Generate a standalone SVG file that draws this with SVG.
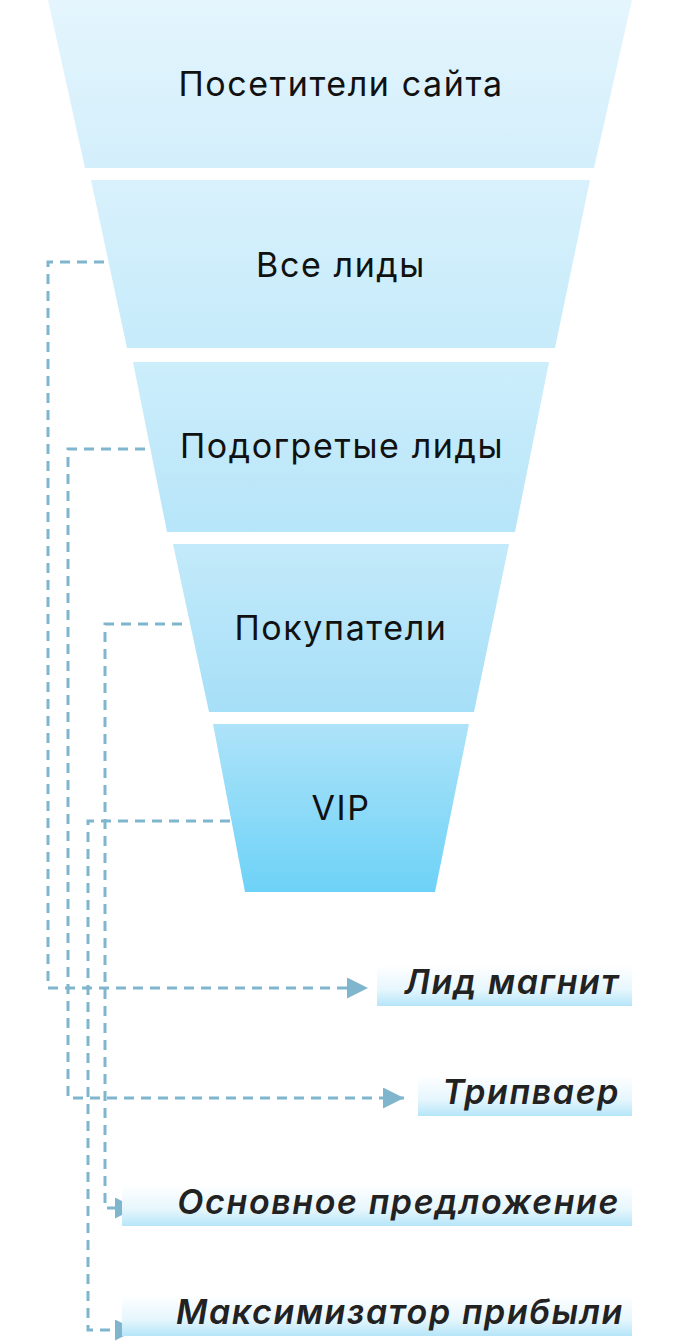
<svg xmlns="http://www.w3.org/2000/svg" width="680" height="1344" viewBox="0 0 680 1344">
<style>
.t{font-family:Inter,"Noto Sans",sans-serif;font-size:34px;letter-spacing:1.6px;fill:#111;text-anchor:middle}
.l{font-family:Inter,"Noto Sans",sans-serif;font-size:34px;letter-spacing:1.6px;font-weight:600;font-style:italic;fill:#222;text-anchor:end}
.c{fill:none;stroke:#7fb6cd;stroke-width:3;stroke-dasharray:10 7}
</style>
<defs>
<linearGradient id="g1" x1="0" y1="0" x2="0" y2="1"><stop offset="0" stop-color="#e4f5fd"/><stop offset="1" stop-color="#d3effb"/></linearGradient>
<linearGradient id="g2" x1="0" y1="0" x2="0" y2="1"><stop offset="0" stop-color="#d8f1fc"/><stop offset="1" stop-color="#c6ebfa"/></linearGradient>
<linearGradient id="g3" x1="0" y1="0" x2="0" y2="1"><stop offset="0" stop-color="#cdeefb"/><stop offset="1" stop-color="#b7e5f9"/></linearGradient>
<linearGradient id="g4" x1="0" y1="0" x2="0" y2="1"><stop offset="0" stop-color="#c3eafa"/><stop offset="1" stop-color="#a6dff8"/></linearGradient>
<linearGradient id="g5" x1="0" y1="0" x2="0" y2="1"><stop offset="0" stop-color="#aee3f9"/><stop offset="1" stop-color="#6dd2f7"/></linearGradient>
<linearGradient id="lg" x1="0" y1="0" x2="0" y2="1"><stop offset="0" stop-color="#ffffff"/><stop offset="0.6" stop-color="#e6f6fd"/><stop offset="1" stop-color="#b5e5f8"/></linearGradient>
<marker id="a" viewBox="0 0 10 10" refX="10" refY="5" markerWidth="7" markerHeight="7" markerUnits="strokeWidth" orient="auto"><path d="M0,0L10,5L0,10z" fill="#7fb6cd"/></marker>
</defs>
<g id="s1"><polygon points="48,0 632,0 594,168 85,168" fill="url(#g1)"/><text class="t" x="341" y="96">Посетители сайта</text></g>
<g id="s2"><polygon points="91,180 590,180 555,348 127,348" fill="url(#g2)"/><text class="t" x="341" y="277">Все лиды</text></g>
<g id="s3"><polygon points="133,362 549,362 515,532 167,532" fill="url(#g3)"/><text class="t" x="342" y="458">Подогретые лиды</text></g>
<g id="s4"><polygon points="173,544 509,544 474,712 209,712" fill="url(#g4)"/><text class="t" x="341" y="640">Покупатели</text></g>
<g id="s5"><polygon points="213,724 469,724 435,892 245,892" fill="url(#g5)"/><text class="t" x="341" y="820">VIP</text></g>
<g id="connectors">
<path class="c" d="M104,262H48V988H368" marker-end="url(#a)"/>
<path class="c" d="M145,449H68V1098H404" marker-end="url(#a)"/>
<path class="c" d="M182,624H105V1208H136" marker-end="url(#a)"/>
<path class="c" d="M230,821H88V1330H136" marker-end="url(#a)"/>
</g>
<g id="lab1"><rect x="377" y="965" width="255" height="41" fill="url(#lg)"/><text class="l" x="620" y="994">Лид магнит</text></g>
<g id="lab2"><rect x="418" y="1075" width="214" height="41" fill="url(#lg)"/><text class="l" x="620" y="1104">Трипваер</text></g>
<g id="lab3"><rect x="122" y="1185" width="510" height="41" fill="url(#lg)"/><text class="l" x="620" y="1214">Основное предложение</text></g>
<g id="lab4"><rect x="122" y="1295" width="510" height="41" fill="url(#lg)"/><text class="l" x="624" y="1324">Максимизатор прибыли</text></g>
</svg>
